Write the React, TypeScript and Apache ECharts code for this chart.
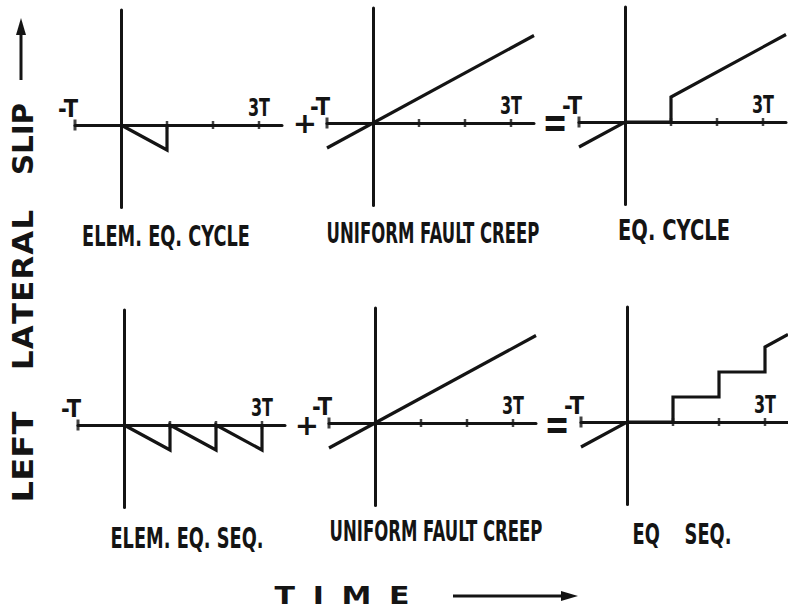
import React, { useEffect, useRef } from "react";
import * as echarts from "echarts";

// Time in units of the recurrence interval T, slip in units of the slip per cycle.
const TICK_TIMES = [-1, 1, 2, 3];
const TICK_LABEL_TIMES = [-1, 3];
const TICK_LABEL_TEXT = ["-T", "3T"];

const ELEM_EQ_CYCLE: [number, number][] = [[0, 0], [1, -1], [1, 0]];
const UNIFORM_CREEP: [number, number][] = [[-1, -1], [3.5, 3.5]];
const EQ_CYCLE: [number, number][] = [[-1, -1], [0, 0], [1, 0], [1, 1], [3.5, 3.5]];
const ELEM_EQ_SEQ: [number, number][] = [
  [0, 0], [1, -1], [1, 0], [2, -1], [2, 0], [3, -1], [3, 0],
];
const EQ_SEQ: [number, number][] = [
  [-1, -1], [0, 0], [1, 0], [1, 1], [2, 1], [2, 2], [3, 2], [3, 3], [3.5, 3.5],
];

const PANEL_TITLES = [
  "ELEM. EQ. CYCLE",
  "UNIFORM FAULT CREEP",
  "EQ. CYCLE",
  "ELEM. EQ. SEQ.",
  "UNIFORM FAULT CREEP",
  "EQ    SEQ.",
];
const PANEL_SERIES = [ELEM_EQ_CYCLE, UNIFORM_CREEP, EQ_CYCLE, ELEM_EQ_SEQ, UNIFORM_CREEP, EQ_SEQ];

const X_MIN = -1;
const X_MAX = 3.5;
const Y_MIN = -3.3;
const Y_MAX = 4.6;

// layout: pixel origin of each small plot, and scale
const PX_PER_T = 46;
const PX_PER_SLIP = 25;
const ORIGINS = [
  [121, 125], [373, 123], [625, 122],
  [124, 425], [375, 423], [627, 422],
];
const TITLE_BOXES = [
  [166, 236, 168], [433, 233, 213], [674, 231, 112],
  [187, 538, 153], [436, 531, 213], [682, 534, 99],
];

const INK = "#141414";
const FONT = "DejaVu Sans";

let measureCtx: CanvasRenderingContext2D | null = null;
function measure(text: string, size: number): number {
  if (!measureCtx) measureCtx = document.createElement("canvas").getContext("2d");
  if (!measureCtx) return text.length * size * 0.6;
  measureCtx.font = `bold ${size}px "${FONT}"`;
  return measureCtx.measureText(text).width;
}

function textEl(text: string, x: number, y: number, size: number, extra: Record<string, unknown> = {}) {
  return {
    type: "text",
    x, y,
    silent: true,
    ...extra,
    style: {
      text,
      fill: INK,
      fontFamily: FONT,
      fontWeight: "bold",
      fontSize: size,
      align: "center",
      verticalAlign: "middle",
    },
  };
}

function fittedText(
  text: string, x: number, y: number, size: number, width: number,
  extra: Record<string, unknown> = {}
) {
  return textEl(text, x, y, size, { scaleX: width / measure(text, size), ...extra });
}

// Letters set one by one along a line, spread evenly over a given length.
// Horizontal runs left to right; vertical runs bottom to top.
function letterSpaced(
  word: string, cx: number, cy: number, size: number, length: number,
  letterScale: number, vertical: boolean
) {
  const letters = word.split("");
  const widths = letters.map((c) => measure(c, size) * letterScale);
  const used = widths.reduce((a, b) => a + b, 0);
  const gap = letters.length > 1 ? (length - used) / (letters.length - 1) : 0;
  let offset = -length / 2;
  return letters.map((c, i) => {
    const mid = offset + widths[i] / 2;
    offset += widths[i] + gap;
    return vertical
      ? textEl(c, cx, cy - mid, size, { rotation: Math.PI / 2, scaleX: letterScale })
      : textEl(c, cx + mid, cy, size, { scaleX: letterScale });
  });
}

export default function App() {
  const ref = useRef<HTMLDivElement>(null);

  useEffect(() => {
    if (!ref.current) return;
    const chart = echarts.init(ref.current, undefined, { renderer: "svg" });

    const grids = ORIGINS.map(([x0, y0]) => ({
      left: x0 + X_MIN * PX_PER_T,
      top: y0 - Y_MAX * PX_PER_SLIP,
      width: (X_MAX - X_MIN) * PX_PER_T,
      height: (Y_MAX - Y_MIN) * PX_PER_SLIP,
      containLabel: false,
    }));

    const axisLine = { show: true, onZero: true, lineStyle: { color: INK, width: 3 } };

    const xAxes = grids.map((_, i) => ({
      type: "value",
      gridIndex: i,
      min: X_MIN,
      max: X_MAX,
      interval: 1,
      axisLine,
      axisTick: { show: false },
      axisLabel: { show: false },
      splitLine: { show: false },
    }));
    const yAxes = grids.map((_, i) => ({
      type: "value",
      gridIndex: i,
      min: Y_MIN,
      max: Y_MAX,
      axisLine,
      axisTick: { show: false },
      axisLabel: { show: false },
      splitLine: { show: false },
    }));

    const series: any[] = [];
    PANEL_SERIES.forEach((data, i) => {
      series.push({
        type: "line",
        xAxisIndex: i,
        yAxisIndex: i,
        data,
        showSymbol: false,
        lineStyle: { color: INK, width: 3.2, join: "miter" },
        silent: true,
        z: 3,
      });
      series.push({
        type: "scatter",
        xAxisIndex: i,
        yAxisIndex: i,
        symbol: "rect",
        data: TICK_TIMES.map((t) => ({
          value: [t, 0],
          symbolSize: t === -1 ? [3, 11] : [2.5, 8],
        })),
        itemStyle: { color: INK },
        silent: true,
        z: 4,
      });
    });

    chart.setOption({
      animation: false,
      backgroundColor: "#ffffff",
      grid: grids,
      xAxis: xAxes,
      yAxis: yAxes,
      series,
    });

    const graphics: any[] = [];

    // tick labels above the time axis of every panel
    ORIGINS.forEach((_, i) => {
      TICK_LABEL_TIMES.forEach((t, k) => {
        const p = chart.convertToPixel({ gridIndex: i }, [t, 0]) as number[];
        const text = TICK_LABEL_TEXT[k];
        const cx = t < 0 ? p[0] - 7 : p[0];
        graphics.push(fittedText(text, cx, p[1] - 17, 24, t < 0 ? 20 : 22));
      });
    });

    // panel captions
    PANEL_TITLES.forEach((title, i) => {
      const [cx, cy, w] = TITLE_BOXES[i];
      graphics.push(fittedText(title, cx, cy, 28, w));
    });

    // operators between panels
    const ops: [string, number, number][] = [
      ["+", 305, 123], ["=", 555, 122], ["+", 307, 425], ["=", 557, 424],
    ];
    ops.forEach(([s, x, y]) => {
      graphics.push(
        textEl(s, x, y, s === "=" ? 30 : 29, { scaleY: s === "=" ? 1.45 : 1 })
      );
    });

    // vertical axis title, read bottom to top
    graphics.push(...letterSpaced("LEFT", 23, 457, 28, 91, 1.2, true));
    graphics.push(...letterSpaced("LATERAL", 23, 290, 28, 160, 1.1, true));
    graphics.push(...letterSpaced("SLIP", 23, 139, 28, 72, 1.05, true));
    graphics.push({
      type: "line",
      silent: true,
      shape: { x1: 21, y1: 80, x2: 21, y2: 30 },
      style: { stroke: INK, lineWidth: 3 },
    });
    graphics.push({
      type: "polygon",
      silent: true,
      shape: { points: [[21, 18], [16, 35], [26, 35]] },
      style: { fill: INK },
    });

    // time axis title
    graphics.push(...letterSpaced("TIME", 342, 596, 24, 135, 1.25, false));
    graphics.push({
      type: "line",
      silent: true,
      shape: { x1: 453, y1: 596, x2: 566, y2: 596 },
      style: { stroke: INK, lineWidth: 3 },
    });
    graphics.push({
      type: "polygon",
      silent: true,
      shape: { points: [[578, 596], [561, 591], [561, 601]] },
      style: { fill: INK },
    });

    chart.setOption({ graphic: graphics });

    return () => chart.dispose();
  }, []);

  return <div ref={ref} style={{ width: 788, height: 609, position: "absolute", left: 0, top: 0 }} />;
}
